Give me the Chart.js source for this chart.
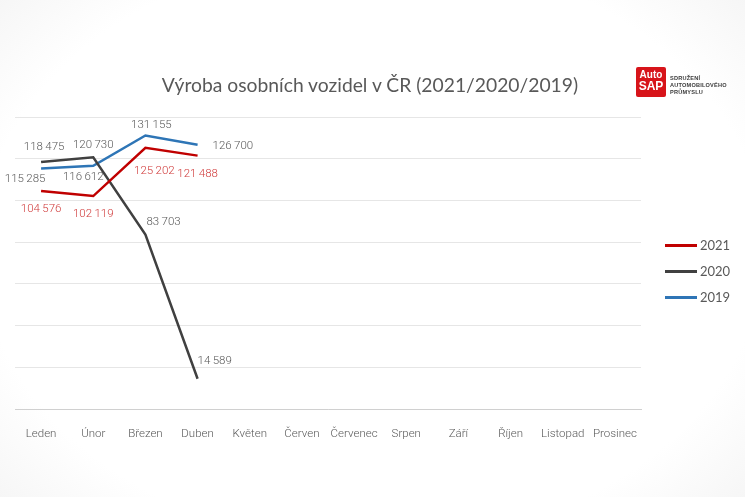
<!DOCTYPE html>
<html><head><meta charset="utf-8">
<script src="https://cdn.jsdelivr.net/npm/chart.js@4"></script>
<style>
html,body{margin:0;padding:0;}
body{width:745px;height:497px;position:relative;overflow:hidden;
background:radial-gradient(ellipse 75% 85% at 50% 50%, #ffffff 70%, #f1f1f1 100%);font-family:Lato,sans-serif;}
#wrap{position:absolute;left:0;top:0;width:745px;height:497px;}
#title{position:absolute;left:0;width:740px;top:73px;text-align:center;font-family:Lato,sans-serif;font-size:19.3px;color:#595959;}
#logo{position:absolute;left:636px;top:67px;width:30px;height:30px;background:#d7141a;border-radius:2px;color:#fff;font:bold 10px/10px "Liberation Sans",Arial,sans-serif;text-align:center;}
#logo span{display:block;}
#logotext{position:absolute;left:670px;top:75px;font:bold 5.6px/7px "Liberation Sans",Arial,sans-serif;color:#3a3a3a;letter-spacing:0.2px;}
#legend{position:absolute;left:665px;top:232px;font-family:Lato,sans-serif;font-size:13px;color:#595959;}
.li{height:26px;display:flex;align-items:center;}
.sw{width:32px;height:3px;margin-right:3px;}
</style></head>
<body>
<div id="wrap"><canvas id="c" width="745" height="497"></canvas></div>
<div id="title">Výroba osobních vozidel v ČR (2021/2020/2019)</div>
<div id="logo"><span style="margin-top:3px">Auto</span><span style="font-size:12px;line-height:12px">SAP</span></div>
<div id="logotext">SDRUŽENÍ<br>AUTOMOBILOVÉHO<br>PRŮMYSLU</div>
<div id="legend"></div>
<script>
const months = ["Leden","Únor","Březen","Duben","Květen","Červen","Červenec","Srpen","Září","Říjen","Listopad","Prosinec"];
const seriesNames = ["2021","2020","2019"];
const values2021 = [104576, 102119, 125202, 121488];
const values2020 = [118475, 120730, 83703, 14589];
const values2019 = [115285, 116612, 131155, 126700];
const yTicks = [0, 20000, 40000, 60000, 80000, 100000, 120000, 140000];

const lineColors = ["#c00000", "#404040", "#2e75b6"];
const labelColors = ["#d03a3a", "#595959", "#595959"];
// label placement per point: [dx, dy, align]
const labelPlacement = [
  [[0,18,"center"],[0,18,"center"],[9,23,"center"],[0,18,"center"]],
  [[3,-15,"center"],[0,-12,"center"],[1,-12,"left"],[0,-18,"left"]],
  [[-16,11,"center"],[-10,11,"center"],[6,-10,"center"],[15,1,"left"]]
];

function fmt(v){ return String(v).replace(/\B(?=(\d{3})+(?!\d))/g, "\u2009"); }

const labelPlugin = {
  id: "pointLabels",
  afterDatasetsDraw(chart){
    const ctx = chart.ctx;
    ctx.save();
    ctx.font = "300 11.5px Roboto";
    ctx.textBaseline = "middle";
    chart.data.datasets.forEach((ds, di) => {
      const meta = chart.getDatasetMeta(di);
      meta.data.forEach((pt, i) => {
        const p = labelPlacement[di][i];
        ctx.fillStyle = labelColors[di];
        ctx.textAlign = p[2];
        ctx.fillText(fmt(ds.data[i]), pt.x + p[0], pt.y + p[1]);
      });
    });
    ctx.restore();
  }
};

const datasets = [values2021, values2020, values2019].map((vals, i) => ({
  label: seriesNames[i],
  data: vals,
  borderColor: lineColors[i],
  backgroundColor: lineColors[i],
  borderWidth: 2.5,
  pointRadius: 0,
  tension: 0,
  fill: false
}));

new Chart(document.getElementById("c"), {
  type: "line",
  data: { labels: months, datasets },
  options: {
    responsive: false,
    animation: false,
    events: [],
    layout: { padding: { left: 15, right: 104, top: 117, bottom: 46 } },
    plugins: { legend: { display: false }, tooltip: { enabled: false } },
    scales: {
      x: {
        offset: true,
        grid: { display: false },
        border: { display: true, color: "#d0d0d0", width: 1 },
        ticks: { color: "#595959", font: { family: "Roboto", size: 11.5, weight: "300" }, maxRotation: 0, autoSkip: false, padding: 10 }
      },
      y: {
        min: 0, max: 140000,
        afterBuildTicks(scale){ scale.ticks = yTicks.map(v => ({ value: v })); },
        grid: { color: "#e6e6e6", drawTicks: false },
        border: { display: false },
        ticks: { display: false }
      }
    }
  },
  plugins: [labelPlugin]
});

const lg = document.getElementById("legend");
seriesNames.forEach((n, i) => {
  const d = document.createElement("div"); d.className = "li";
  d.innerHTML = '<div class="sw" style="background:' + lineColors[i] + '"></div><span>' + n + '</span>';
  lg.appendChild(d);
});
</script>
</body></html>
